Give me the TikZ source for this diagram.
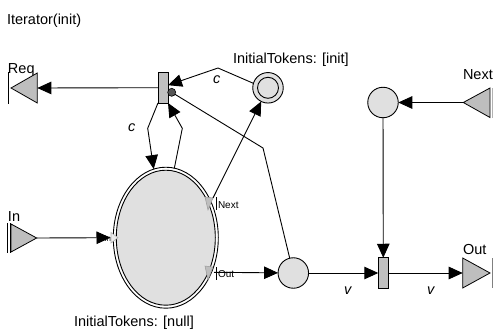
\documentclass[tikz,border=0pt]{standalone}
\usepackage{fontspec}
\setmainfont{Liberation Sans}
\usetikzlibrary{arrows.meta,shapes.geometric,calc}
\definecolor{placefill}{HTML}{E0E0E0}
\definecolor{transfill}{HTML}{C0C0C0}
\definecolor{portfill}{HTML}{BEBEBE}
\definecolor{dotfill}{HTML}{555555}
\begin{document}
\begin{tikzpicture}[x=1pt,y=-1pt,
  line width=0.9pt,
  every node/.style={inner sep=0pt, outer sep=0pt},
  place/.style={circle,draw,fill=placefill,minimum size=30.5pt},
  trans/.style={rectangle,draw,fill=transfill,minimum width=10pt,minimum height=30.5pt},
  arr/.style={-{Triangle[length=14pt,width=12.5pt]}},
  big/.style={font=\fontsize{14.5}{17}\selectfont},
  small/.style={font=\fontsize{10}{12}\selectfont},
  tiny/.style={font=\fontsize{8}{9}\selectfont},
  lab/.style={font=\fontsize{14.5}{17}\selectfont\itshape},
  port/.style={draw,fill=portfill,line width=0.8pt},
  iport/.style={draw=gray!80,fill=portfill,line width=0.5pt},
]
\useasboundingbox (0,0) rectangle (493,332);

% texts
\node[big,anchor=base west] (title) at (7,24.5) {Iterator(init)};
\node[big,anchor=base west] (reqlab) at (8,73) {Req};
\node[big,anchor=base west] (initlab) at (233,63.5) {InitialTokens: [init]};
\node[big,anchor=base west] (nextlab) at (463,79) {Next};
\node[big,anchor=base west] (inlab) at (8,221.5) {In};
\node[big,anchor=base west] (outlab) at (463,254) {Out};
\node[big,anchor=base west] (nulllab) at (74,326.5) {InitialTokens: [null]};
\node[lab,anchor=base west] (c1) at (213,83) {c};
\node[lab,anchor=base west] (c2) at (128,131.5) {c};
\node[lab,anchor=base west] (v1) at (344,294) {v};
\node[lab,anchor=base west] (v2) at (427,294) {v};

% boundary ports
\draw[port] (11,88) -- (37.3,73) -- (37.3,103) -- cycle;
\coordinate (reqbase) at (37.3,88);
\draw (8,72) -- (8,104);
\draw[port] (11,224) -- (36.7,238) -- (11,252) -- cycle;
\coordinate (intip) at (36.7,238);
\draw (7.3,223) -- (7.3,253);
\draw (10,223) -- (10,253);
\draw[port] (463.3,102.5) -- (490,88) -- (490,117.5) -- cycle;
\coordinate (nexttip) at (463.3,102.5);
\draw[gray!60] (492.3,88) -- (492.3,118);
\draw[port] (462.7,258) -- (490,273) -- (462.7,288) -- cycle;
\coordinate (outbase) at (462.7,273);
\draw[gray] (492.5,258) -- (492.5,288);

% places and transitions
\node[trans] (T1) at (163,87.7) {};
\node[place] (P1) at (268,87.8) {};
\draw (P1.center) circle (10.5pt);
\node[place] (P2) at (293.3,273) {};
\node[place] (P3) at (383,102.5) {};
\node[trans] (T2) at (383.3,273) {};
\node[ellipse,draw,minimum width=105pt,minimum height=141pt] (E) at (165.8,237.7) {};
\draw[fill=placefill] (E.center) ellipse [x radius=49.5pt, y radius=67.5pt];

% ellipse ports
\draw[iport] (205,197) -- (213,198) -- (208,210) -- cycle;
\coordinate (nextp) at (213,198);
\draw[line width=0.6pt] (216,197) -- (216,210);
\node[small,anchor=base west] (nextpl) at (218,208) {Next};
\draw[iport] (205,266) -- (213,267) -- (208,280) -- cycle;
\coordinate (outp) at (214,272.3);
\draw[line width=0.6pt] (216,267) -- (216,280);
\node[small,anchor=base west] (outpl) at (218,277.5) {Out};
\node[tiny,anchor=base east] (inpl) at (111,241) {In};
\draw[draw=gray!60,fill=gray!15,line width=0.6pt] (111,232.5) -- (118,237.7) -- (111,243) -- cycle;
\coordinate (inp) at (110.5,237.7);

% connectors
\draw[arr] (T1.west) -- (reqbase);
\draw[arr] (P1.163) -- (218,68) -- ($(T1.east)+(0,-2.5)$);
\draw[arr] (T1.south west) -- (147.7,128.3) -- (E.100);
\draw[arr] (E.83) -- (182.3,128.3) -- (T1.south east);
\node[circle,draw,fill=dotfill,minimum size=8pt,line width=0.6pt] (dot) at (171.7,92.3) {};
\draw (dot) -- (263,148) -- (P2);
\draw[arr] (nextp) -- (P1);
\draw[arr] (outp) -- (P2);
\draw[arr] (intip) -- (inp);
\draw[arr] (P2) -- (T2);
\draw[arr] (T2) -- (outbase);
\draw[arr] (nexttip) -- (P3);
\draw[arr] (P3) -- (T2);
\end{tikzpicture}
\end{document}
